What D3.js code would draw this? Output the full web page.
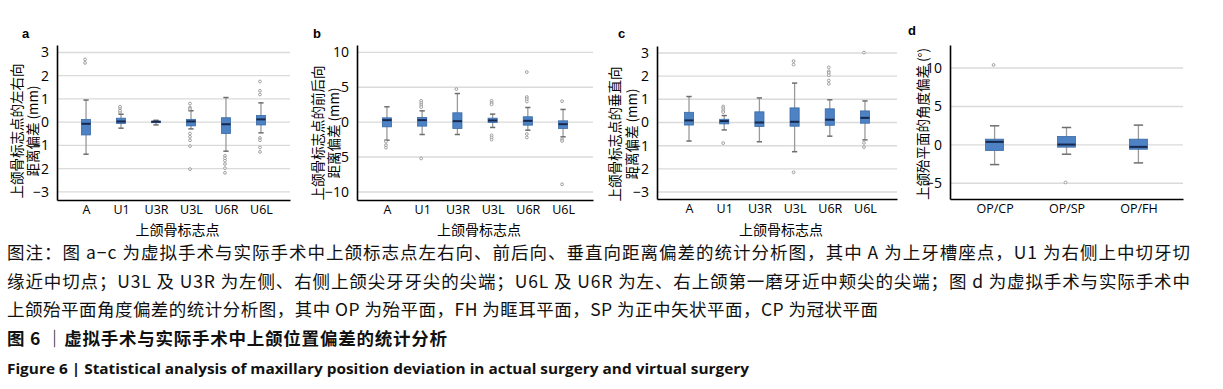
<!DOCTYPE html>
<html>
<head>
<meta charset="utf-8">
<script src="https://cdn.jsdelivr.net/npm/d3@7"></script>
<style>
  body { margin: 0; background: #fff; }
  svg { display: block; }
</style>
</head>
<body>
<div id="fig"></div>
<script>
// ---------- data ----------
const landmarks = ["A", "U1", "U3R", "U3L", "U6R", "U6L"];
const planes = ["OP/CP", "OP/SP", "OP/FH"];

// [whisker low, Q1, median, Q3, whisker high]
const boxA = [
  [-1.38, -0.55, -0.07, 0.11, 0.95],
  [-0.26, -0.06, 0.03, 0.17, 0.34],
  [-0.12, -0.02, 0.02, 0.04, 0.08],
  [-0.29, -0.16, 0.03, 0.12, 0.49],
  [-1.25, -0.49, -0.09, 0.19, 1.06],
  [-0.46, -0.12, 0.12, 0.29, 0.83]
];
const outA = [
  [2.55, 2.7],
  [0.42, 0.49, 0.59, 0.66],
  [],
  [0.8, 0.63, 0.57, -0.49, -0.63, -0.78, -1.03, -2.02],
  [-1.45, -1.56, -1.66, -1.8, -1.98, -2.18],
  [1.75, 1.35, 1.19, -0.68, -0.78, -1.09, -1.28]
];

const boxB = [
  [-2.58, -0.67, 0.29, 0.62, 2.2],
  [-1.77, -0.57, 0.29, 0.67, 1.62],
  [-1.77, -0.9, 0.14, 1.34, 4.1],
  [-0.76, -0.05, 0.24, 0.57, 1.15],
  [-1.15, -0.43, 0.19, 0.77, 2.1],
  [-2.1, -0.9, -0.29, 0.19, 1.82]
];
const outB = [
  [-2.8, -3.3, -3.65],
  [3.06, 2.75, 2.44, 2.15, -5.2],
  [4.73],
  [3.06, 2.75, 2.55, -1.9, -2.2, -2.5],
  [7.17, 3.6, 3.3, 2.95, -1.7, -2.2],
  [3.0, -2.44, -2.7, -8.9]
];

const boxC = [
  [-0.8, -0.11, 0.09, 0.44, 1.12],
  [-0.32, -0.06, 0.06, 0.14, 0.3],
  [-0.83, -0.17, 0.0, 0.46, 1.06],
  [-1.26, -0.16, 0.03, 0.63, 1.7],
  [-0.59, -0.12, 0.12, 0.59, 0.98],
  [-0.75, -0.03, 0.2, 0.5, 0.93]
];
const outC = [
  [],
  [0.69, 0.62, 0.52, 0.45, -0.89],
  [],
  [2.65, 2.5, -2.15],
  [2.38, 2.21, 2.14, 2.04, 1.81, 1.67],
  [3.02, -0.88, -1.06]
];

const boxD = [
  [-2.57, -0.74, 0.39, 0.74, 2.48],
  [-1.22, -0.3, 0.04, 1.09, 2.26],
  [-2.35, -0.57, -0.26, 0.74, 2.57]
];
const outD = [[10.4], [-4.9], []];

const captionLines = [
  "图注：图 a−c 为虚拟手术与实际手术中上颌标志点左右向、前后向、垂直向距离偏差的统计分析图，其中 A 为上牙槽座点，U1 为右侧上中切牙切",
  "缘近中切点；U3L 及 U3R 为左侧、右侧上颌尖牙牙尖的尖端；U6L 及 U6R 为左、右上颌第一磨牙近中颊尖的尖端；图 d 为虚拟手术与实际手术中",
  "上颌殆平面角度偏差的统计分析图，其中 OP 为殆平面，FH 为眶耳平面，SP 为正中矢状平面，CP 为冠状平面"
];
const figTitleZh = "图 6 ｜虚拟手术与实际手术中上颌位置偏差的统计分析";
const figTitleEn = "Figure 6  |  Statistical analysis of maxillary position deviation in actual surgery and virtual surgery";

// ---------- setup ----------
const W = 1223, H = 389;
const svg = d3.select("#fig").append("svg").attr("width", W).attr("height", H);
svg.append("rect").attr("width", W).attr("height", H).attr("fill", "#fff");

const FONT_LAT = "'Open Sans', 'Noto Sans', sans-serif";
const FONT_CJK = "'Noto Sans CJK SC', sans-serif";

const panels = [
  { tag: "a", cats: landmarks, box: boxA, out: outA, left: 57, right: 290, top: 45, bottom: 200,
    pad: 0.83, domain: [-3.35, 3.32], ticks: [-3, -2, -1, 0, 1, 2, 3],
    ylab: ["上颌骨标志点的左右向", "距离偏差 (mm)"], ylabX: [17, 33], ylabY: 131, xlab: "上颌骨标志点",
    tagX: 22, tagY: 38, boxFrac: 0.26, capFrac: 0.15 },
  { tag: "b", cats: landmarks, box: boxB, out: outB, left: 357, right: 593, top: 45, bottom: 200,
    pad: 0.85, domain: [-11.15, 11.05], ticks: [-10, -5, 0, 5, 10],
    ylab: ["上颌骨标志点的前后向", "距离偏差 (mm)"], ylabX: [318, 334], ylabY: 133, xlab: "上颌骨标志点",
    tagX: 313, tagY: 38, boxFrac: 0.26, capFrac: 0.15 },
  { tag: "c", cats: landmarks, box: boxC, out: outC, left: 657, right: 897, top: 46, bottom: 199,
    pad: 0.91, domain: [-3.3, 3.3], ticks: [-3, -2, -1, 0, 1, 2, 3],
    ylab: ["上颌骨标志点的垂直向", "距离偏差 (mm)"], ylabX: [615, 632], ylabY: 134, xlab: "上颌骨标志点",
    tagX: 618, tagY: 38, boxFrac: 0.26, capFrac: 0.15 },
  { tag: "d", cats: planes, box: boxD, out: outD, left: 950, right: 1183, top: 45, bottom: 199,
    pad: 0.62, domain: [-7.05, 13.0], ticks: [-5, 0, 5, 10],
    ylab: ["上颌殆平面的角度偏差 (°)"], ylabX: [923], ylabY: 124, xlab: null,
    tagX: 908, tagY: 35, boxFrac: 0.25, capFrac: 0.13 }
];

const fmtTick = d => (d < 0 ? "\u2212" + Math.abs(d) : String(d));

panels.forEach(drawPanel);
drawCaption();

// ---------- panel ----------
function drawPanel(p) {
  const g = svg.append("g").attr("class", "panel-" + p.tag);

  const x = d3.scalePoint().domain(p.cats).range([p.left, p.right]).padding(p.pad);
  const y = d3.scaleLinear().domain(p.domain).range([p.bottom, p.top]);

  // grid
  g.append("g").selectAll("line").data(p.ticks).join("line")
    .attr("x1", p.left).attr("x2", p.right)
    .attr("y1", d => y(d)).attr("y2", d => y(d))
    .attr("stroke", "#dadada").attr("stroke-width", 1.4);

  // y axis
  const ya = g.append("g").attr("transform", `translate(${p.left},0)`)
    .call(d3.axisLeft(y).tickValues(p.ticks).tickSize(0).tickPadding(8).tickFormat(fmtTick));
  ya.select(".domain").attr("stroke", "#000").attr("stroke-width", 1.6);
  ya.selectAll("text").attr("font-family", FONT_LAT).attr("font-size", 14).attr("fill", "#000");

  // x axis
  const xa = g.append("g").attr("transform", `translate(0,${p.bottom})`)
    .call(d3.axisBottom(x).tickSize(0).tickPadding(5));
  xa.select(".domain").attr("stroke", "#000").attr("stroke-width", 1.6);
  xa.selectAll("text").attr("font-family", FONT_LAT).attr("font-size", 12.5).attr("fill", "#000");

  const step = x.step();
  const bw = step * p.boxFrac, cw = step * p.capFrac;

  const items = g.append("g").selectAll("g")
    .data(p.cats.map((c, i) => ({ cat: c, s: p.box[i], out: p.out[i] })))
    .join("g");

  // whiskers
  items.append("line")
    .attr("x1", d => x(d.cat)).attr("x2", d => x(d.cat))
    .attr("y1", d => y(d.s[0])).attr("y2", d => y(d.s[4]))
    .attr("stroke", "#9a9a9a").attr("stroke-width", 1.3);
  items.selectAll("line.cap").data(d => [d.s[0], d.s[4]].map(v => ({ cat: d.cat, v })))
    .join("line").attr("class", "cap")
    .attr("x1", d => x(d.cat) - cw / 2).attr("x2", d => x(d.cat) + cw / 2)
    .attr("y1", d => y(d.v)).attr("y2", d => y(d.v))
    .attr("stroke", "#6e6e6e").attr("stroke-width", 1.5);

  // box
  items.append("rect")
    .attr("x", d => x(d.cat) - bw / 2).attr("width", bw)
    .attr("y", d => y(d.s[3])).attr("height", d => Math.max(1.5, y(d.s[1]) - y(d.s[3])))
    .attr("fill", "#4d82c4").attr("stroke", "#3a6aa6").attr("stroke-width", 0.8);

  // median
  items.append("line")
    .attr("x1", d => x(d.cat) - bw / 2).attr("x2", d => x(d.cat) + bw / 2)
    .attr("y1", d => y(d.s[2])).attr("y2", d => y(d.s[2]))
    .attr("stroke", "#17284d").attr("stroke-width", 2);

  // outliers
  items.selectAll("circle").data(d => d.out.map(v => ({ cat: d.cat, v })))
    .join("circle")
    .attr("cx", d => x(d.cat) - 1).attr("cy", d => y(d.v)).attr("r", 1.4)
    .attr("fill", "#fff").attr("stroke", "#8a8a8a").attr("stroke-width", 0.8);

  // y title (rotated)
  p.ylab.forEach((t, i) => {
    svg.append("text")
      .attr("transform", `translate(${p.ylabX[i]},${p.ylabY}) rotate(-90)`)
      .attr("text-anchor", "middle").attr("dy", "0.35em")
      .attr("font-family", FONT_CJK).attr("font-size", 13.5).attr("fill", "#000")
      .text(t);
  });

  // x title
  if (p.xlab) {
    svg.append("text")
      .attr("x", (p.left + p.right) / 2 + 4).attr("y", 235)
      .attr("text-anchor", "middle")
      .attr("font-family", FONT_CJK).attr("font-size", 14).attr("fill", "#000")
      .text(p.xlab);
  }

  // panel tag
  svg.append("text").attr("x", p.tagX).attr("y", p.tagY)
    .attr("font-family", "'Liberation Sans', Arial, sans-serif").attr("font-weight", "bold")
    .attr("font-size", 13).attr("fill", "#000").text(p.tag);
}

// ---------- caption ----------
function drawCaption() {
  const widths = [1183, 1183, 871];
  const base = [259, 288, 316];
  captionLines.forEach((t, i) => {
    svg.append("text").attr("x", 7).attr("y", base[i])
      .attr("font-family", FONT_CJK).attr("font-size", 17.5).attr("fill", "#111")
      .attr("textLength", widths[i]).attr("lengthAdjust", "spacing")
      .text(t);
  });
  svg.append("text").attr("x", 7).attr("y", 345)
    .attr("font-family", FONT_CJK).attr("font-size", 17.5).attr("font-weight", "bold").attr("fill", "#111")
    .attr("textLength", 440).attr("lengthAdjust", "spacing")
    .text(figTitleZh);
  svg.append("text").attr("x", 7).attr("y", 374)
    .attr("font-family", FONT_LAT).attr("font-size", 15).attr("font-weight", "bold").attr("fill", "#111")
    .attr("textLength", 742).attr("lengthAdjust", "spacingAndGlyphs")
    .text(figTitleEn);
}
</script>
</body>
</html>
